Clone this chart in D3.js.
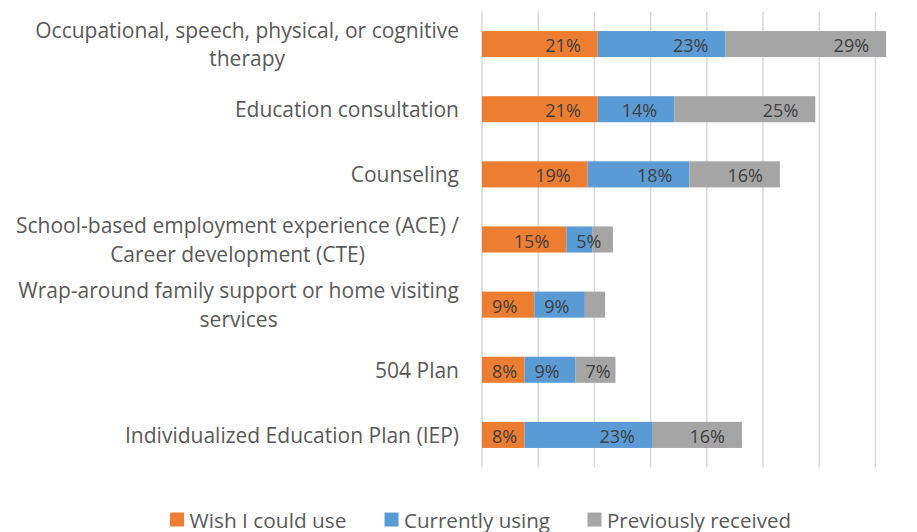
<!DOCTYPE html>
<html>
<head>
<meta charset="utf-8">
<script src="https://cdn.jsdelivr.net/npm/d3@7/dist/d3.min.js"></script>
<style>
  html, body { margin: 0; padding: 0; background: #fff; }
  svg { display: block; font-family: "Open Sans", "DejaVu Sans", sans-serif; }
</style>
</head>
<body>
<svg id="chart" width="917" height="532"></svg>
<script>
// ---- data ----
const categories = [
  ["Occupational, speech, physical, or cognitive", "therapy"],
  ["Education consultation"],
  ["Counseling"],
  ["School-based employment experience (ACE) /", "Career development (CTE)"],
  ["Wrap-around family support or home visiting", "services"],
  ["504 Plan"],
  ["Individualized Education Plan (IEP)"]
];
const seriesNames = ["Wish I could use", "Currently using", "Previously received"];
const wishICouldUse     = [20.6, 20.6, 18.8, 15.0, 9.3, 7.55, 7.55];
const currentlyUsing    = [22.7, 13.6, 18.1, 4.6, 9.0, 9.1, 22.7];
const previouslyReceived = [28.6, 25.1, 16.1, 3.7, 3.6, 7.1, 16.0];
const gridTicks = [0, 10, 20, 30, 40, 50, 60, 70];
const colors = ["#ED7D31", "#5B9BD5", "#A5A5A5"];

// ---- layout ----
const svg = d3.select("#chart");
const plotTop = 11.5, plotBottom = 467.5;
const x = d3.scaleLinear().domain([0, 80]).range([482, 482 + 8 * 56.2]);
const idx = categories.map((d, i) => i);
const y = d3.scaleBand().domain(idx).range([plotTop, plotBottom]).paddingInner(0.6).paddingOuter(0.3);

const series = [wishICouldUse, currentlyUsing, previouslyReceived];
const table = idx.map(i => ({ i, v0: series[0][i], v1: series[1][i], v2: series[2][i] }));
const stack = d3.stack().keys(["v0", "v1", "v2"])(table);

// gridlines
svg.append("g").selectAll("line").data(gridTicks).join("line")
  .attr("x1", d => x(d)).attr("x2", d => x(d))
  .attr("y1", plotTop).attr("y2", plotBottom)
  .attr("stroke", "#D9D9D9").attr("stroke-width", 1.5);

// bars
const layers = svg.append("g").selectAll("g").data(stack).join("g")
  .attr("fill", (d, k) => colors[k]);
layers.selectAll("rect").data(d => d).join("rect")
  .attr("x", d => x(d[0]))
  .attr("width", d => x(d[1]) - x(d[0]))
  .attr("y", d => y(d.data.i))
  .attr("height", y.bandwidth());

// data labels
const labelG = svg.append("g");
stack.forEach((layer, k) => {
  layer.forEach(d => {
    const v = d[1] - d[0];
    if (v < 4) return;
    const t = labelG.append("text")
      .attr("font-size", 18)
      .attr("fill", "#404040")
      .attr("dominant-baseline", "central")
      .attr("text-anchor", "end")
      .attr("y", y(d.data.i) + y.bandwidth() / 2 + 1)
      .text(Math.round(v) + "%");
    const w = t.node().getComputedTextLength();
    const xEnd = Math.max(x(d[1]) - 17, x(d[0]) + 10 + w);
    t.attr("x", xEnd);
  });
});

// category labels
const catG = svg.append("g");
categories.forEach((lines, i) => {
  const cy = y(i) + y.bandwidth() / 2;
  const g = catG.append("g");
  const lh = 28.5;
  const texts = lines.map((ln, j) => g.append("text")
    .attr("font-size", 21)
    .attr("fill", "#595959")
    .attr("text-anchor", "middle")
    .attr("dominant-baseline", "central")
    .attr("y", cy + (j - (lines.length - 1) / 2) * lh)
    .text(ln));
  const widths = texts.map(t => t.node().getComputedTextLength());
  const maxW = Math.max(...widths);
  const right = 459;
  texts.forEach(t => t.attr("x", right - maxW / 2));
});

// legend
const legendX = [170, 384.5, 587.5];
const legendTextW = [157, 146, 184];
const leg = svg.append("g");
seriesNames.forEach((name, k) => {
  leg.append("rect").attr("x", legendX[k]).attr("y", 512.5).attr("width", 14).attr("height", 14)
    .attr("fill", colors[k]);
  leg.append("text").attr("x", legendX[k] + 19.5).attr("y", 520)
    .attr("dominant-baseline", "central")
    .attr("font-size", 20).attr("fill", "#595959")
    .attr("textLength", legendTextW[k]).attr("lengthAdjust", "spacingAndGlyphs")
    .text(name);
});
</script>
</body>
</html>
